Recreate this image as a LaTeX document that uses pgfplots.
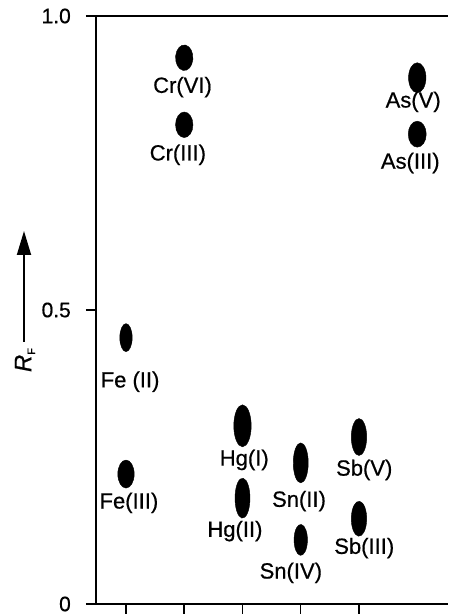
\documentclass[border=0pt]{standalone}
\usepackage{pgfplots}
\pgfplotsset{compat=1.18}
\usepackage{fontspec}
\setmainfont{Liberation Sans}[FakeBold=0.6]
\newfontfamily\lab{Liberation Sans}[FakeBold=0.6]
\usetikzlibrary{arrows.meta}
\begin{document}
\begin{tikzpicture}
\begin{axis}[
  at={(0,0)}, anchor=south west,
  scale only axis, width=352pt, height=588pt,
  xmin=0.485, xmax=6.528, ymin=0, ymax=1,
  axis x line=box, axis y line=left,
  axis line style={line width=1.8pt, -},
  xtick={1,2,3,4,5}, xticklabels={},
  ytick={0,0.5,1}, yticklabels={0,0.5,1.0},
  xtick pos=bottom, ytick pos=left,
  tick align=outside,
  major tick length=10pt,
  major tick style={line width=1.5pt, black},
  /pgf/number format/assume math mode=true,
  yticklabel style={font=\lab\fontsize{21}{24}\selectfont, anchor=east, inner sep=0pt, xshift=-15pt},
  every node near coord/.append style={font=\lab\fontsize{22}{24}\selectfont, anchor=center, inner sep=0pt},
  clip=false,
]
% spots (x position = track, y = R_F)
\addplot[only marks, mark=*, mark size=1pt, mark options={draw=none, fill=black, xscale=8.7, yscale=12.8, rotate=-8}] coordinates {(2,0.929)};  % Cr(VI)
\addplot[only marks, mark=*, mark size=1pt, mark options={draw=none, fill=black, xscale=8.7, yscale=12.8}] coordinates {(2,0.815)};  % Cr(III)
\addplot[only marks, mark=*, mark size=1pt, mark options={draw=none, fill=black, xscale=8.7, yscale=15}] coordinates {(6,0.895)};    % As(V)
\addplot[only marks, mark=*, mark size=1pt, mark options={draw=none, fill=black, xscale=9, yscale=13}] coordinates {(6,0.799)};      % As(III)
\addplot[only marks, mark=*, mark size=1pt, mark options={draw=none, fill=black, xscale=6.2, yscale=14}] coordinates {(1,0.453)};      % Fe(II)
\addplot[only marks, mark=*, mark size=1pt, mark options={draw=none, fill=black, xscale=8.2, yscale=14}] coordinates {(1,0.221)};      % Fe(III)
\addplot[only marks, mark=*, mark size=1pt, mark options={draw=none, fill=black, xscale=8.7, yscale=21}] coordinates {(3,0.303)};    % Hg(I)
\addplot[only marks, mark=*, mark size=1pt, mark options={draw=none, fill=black, xscale=7.5, yscale=20, rotate=-5}] coordinates {(3,0.180)};    % Hg(II)
\addplot[only marks, mark=*, mark size=1pt, mark options={draw=none, fill=black, xscale=7.5, yscale=20}] coordinates {(4,0.240)};    % Sn(II)
\addplot[only marks, mark=*, mark size=1pt, mark options={draw=none, fill=black, xscale=6.7, yscale=15.5, rotate=-5}] coordinates {(4,0.109)};    % Sn(IV)
\addplot[only marks, mark=*, mark size=1pt, mark options={draw=none, fill=black, xscale=7.7, yscale=18.5}] coordinates {(5,0.284)};  % Sb(V)
\addplot[only marks, mark=*, mark size=1pt, mark options={draw=none, fill=black, xscale=7.7, yscale=17.5, rotate=-5}] coordinates {(5,0.145)};  % Sb(III)
% labels
\addplot[only marks, mark=none, nodes near coords, point meta=explicit symbolic, nodes near coords align={center}] coordinates {
  (1.97,0.879) [Cr(VI)]
  (1.89,0.764) [Cr(III)]
  (5.93,0.854) [As(V)]
  (5.88,0.750) [As(III)]
  (1.07,0.378) [Fe (II)]
  (1.05,0.172) [Fe(III)]
  (3.03,0.245) [Hg(I)]
  (2.87,0.124) [Hg(II)]
  (3.97,0.175) [Sn(II)]
  (3.83,0.053) [Sn(IV)]
  (5.09,0.228) [Sb(V)]
  (5.09,0.095) [Sb(III)]
};
\end{axis}
\draw[line width=1.8pt, -{Triangle[length=24pt, width=14pt]}] (-72pt,262pt) -- (-72pt,373pt);
\node[rotate=90, inner sep=0pt, font=\lab\fontsize{24}{26}\selectfont] at (-71pt,244pt) {\textit{R}\raisebox{-0.3ex}{\fontsize{11}{12}\selectfont F}};
\pgfresetboundingbox
\useasboundingbox (-96pt,-11pt) rectangle (352pt,604pt);
\end{tikzpicture}
\end{document}
